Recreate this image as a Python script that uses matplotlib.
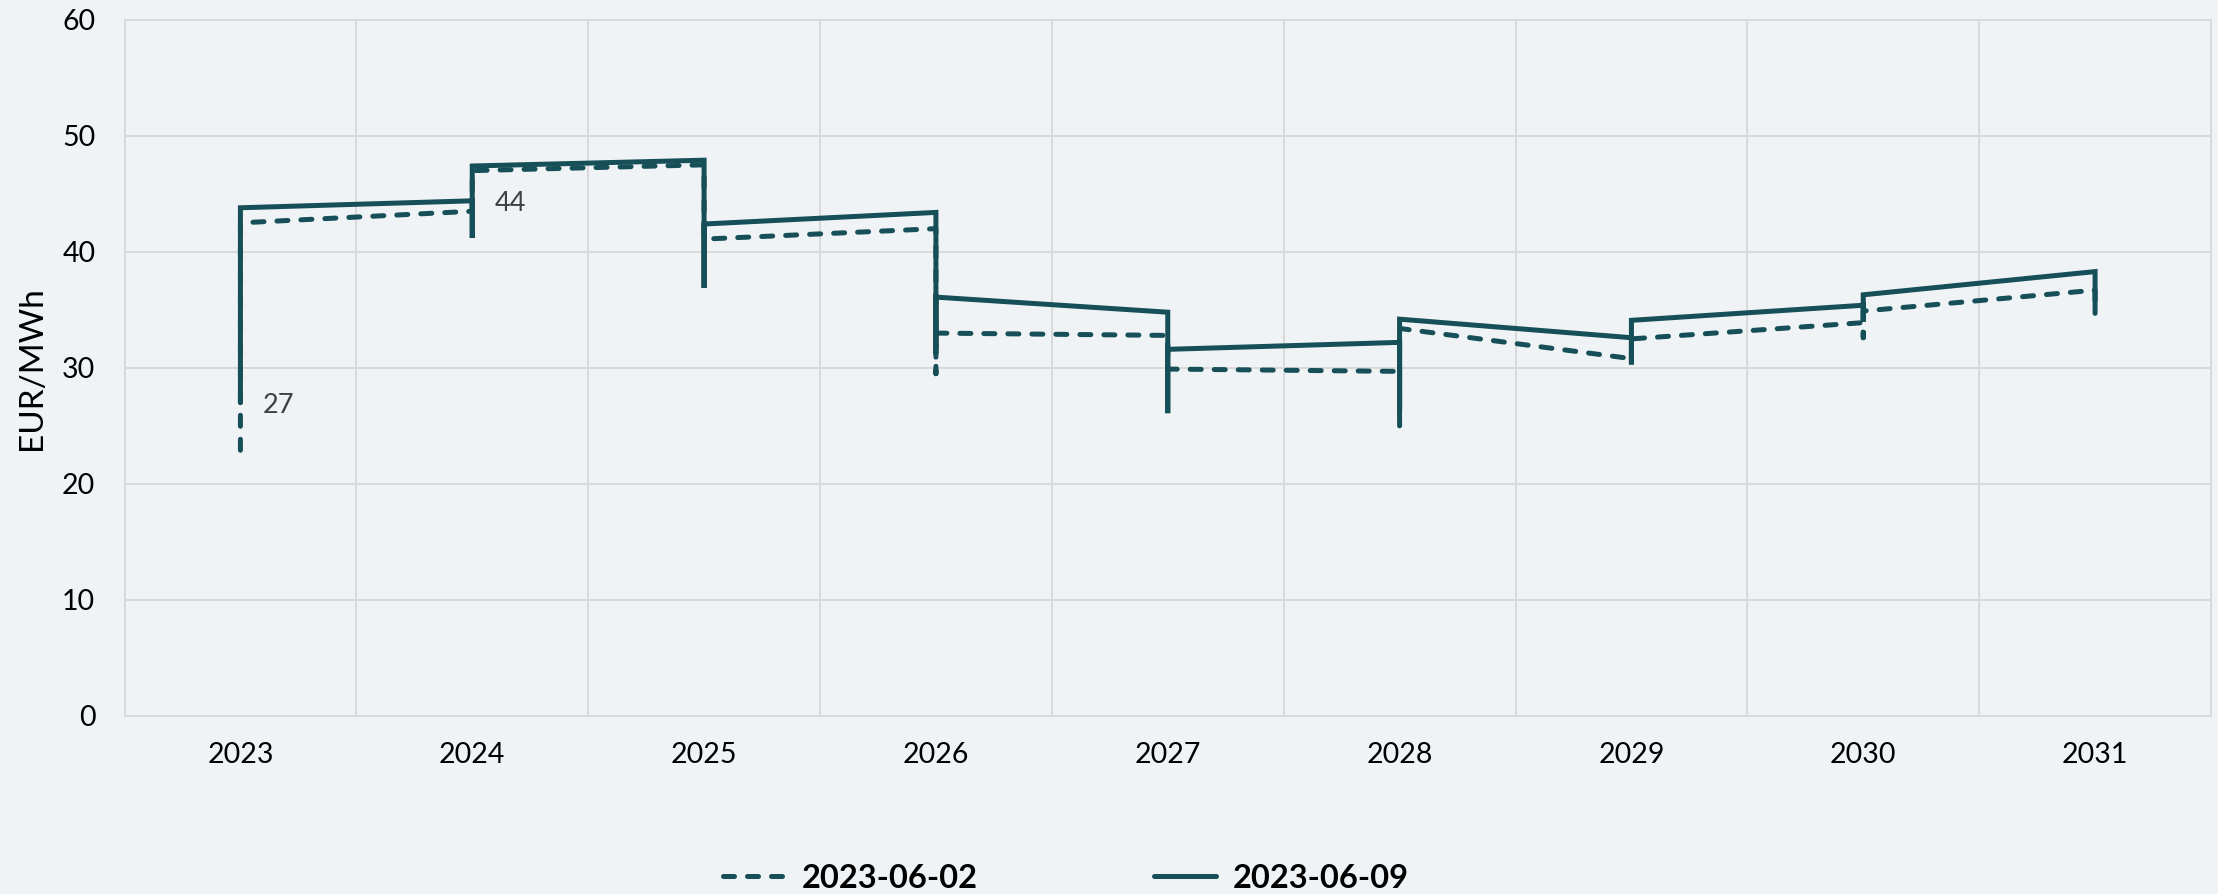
import matplotlib
matplotlib.use('Agg')
import matplotlib.pyplot as plt
from matplotlib.lines import Line2D

years = ['2023', '2024', '2025', '2026', '2027', '2028', '2029', '2030', '2031']

# 2023-06-09 (solid): vertical low at each year, segment start/end values between years
solid_low = [27.0, 41.2, 36.9, 31.8, 26.1, 26.4, 30.3, 34.0, 34.7]
solid_start = [43.8, 47.4, 42.4, 36.1, 31.6, 34.2, 34.1, 36.3]
solid_end = [44.4, 47.9, 43.4, 34.8, 32.2, 32.6, 35.4, 38.3]

# 2023-06-02 (dashed)
dashed_low = [22.9, 43.5, 41.1, 29.5, 29.9, 25.0, 30.5, 32.6, 35.0]
dashed_start = [42.5, 47.0, 41.1, 33.0, 29.9, 33.4, 32.5, 34.9]
dashed_end = [43.5, 47.5, 42.0, 32.8, 29.7, 30.8, 33.9, 36.7]

series_labels = ['2023-06-02', '2023-06-09']
annot_values = [27.0, 44.4]   # labelled values of the solid series
annot_years = [0, 1]

BG = '#EFF3F6'
LINE = '#164F57'
GRID = '#D9D9D9'
FONT = 'Lato'


def build(low, start, end):
    xs, ys = [], []
    n = len(low)
    for i in range(n):
        if i > 0:
            xs.append(i); ys.append(end[i - 1])
        xs.append(i); ys.append(low[i])
        if i < n - 1:
            xs.append(i); ys.append(start[i])
    return xs, ys


plt.rcParams['font.family'] = [FONT, 'DejaVu Sans']

fig = plt.figure(figsize=(22.18, 8.94), dpi=100, facecolor=BG)
ax = fig.add_axes([124.5 / 2218, 1 - 716 / 894, (2211 - 124.5) / 2218, (716 - 19.8) / 894])
ax.set_facecolor(BG)

lw = 3.6
xd, yd = build(dashed_low, dashed_start, dashed_end)
ax.plot(xd, yd, color=LINE, lw=lw, linestyle=(0, (2.2, 2.6)),
        dash_capstyle='round', solid_joinstyle='miter', zorder=3)
xs, ys = build(solid_low, solid_start, solid_end)
ax.plot(xs, ys, color=LINE, lw=lw, solid_capstyle='round',
        solid_joinstyle='miter', zorder=4)

for xi, v in zip(annot_years, annot_values):
    ax.annotate(f'{v:.0f}', xy=(xi, v), xytext=(16, -2), textcoords='offset points',
                ha='left', va='center', fontsize=19.5, color='#404040')

ax.set_xlim(-0.5, len(years) - 0.5)
ax.set_ylim(0, 60)
ax.set_xticks(range(len(years)))
ax.set_xticklabels(years)
ax.set_xticks([i - 0.5 for i in range(len(years) + 1)], minor=True)
ax.set_yticks(range(0, 61, 10))
ax.tick_params(axis='both', which='both', length=0, labelsize=20.5, colors='black')
ax.tick_params(axis='y', pad=21)
ax.tick_params(axis='x', pad=19)
ax.grid(axis='y', which='major', color=GRID, lw=1.4, zorder=0)
ax.grid(axis='x', which='minor', color=GRID, lw=1.4, zorder=0)
for s in ax.spines.values():
    s.set_color(GRID)
    s.set_linewidth(1.4)

ax.set_ylabel('EUR/MWh', fontsize=24, color='black')
ax.yaxis.set_label_coords(-0.037, 0.5)

handles = [Line2D([], [], color=LINE, lw=lw, linestyle=(0, (2.2, 2.6)), dash_capstyle='round'),
           Line2D([], [], color=LINE, lw=lw, solid_capstyle='round')]
fig.legend(handles, series_labels, loc='center', bbox_to_anchor=(753.5 / 1568, 1 - 878 / 894),
           ncol=2, frameon=False, prop={'family': FONT, 'weight': 'bold', 'size': 23.5},
           handlelength=1.9, handletextpad=0.5, columnspacing=5.4)

fig.savefig('out.png', dpi=100, facecolor=BG)
